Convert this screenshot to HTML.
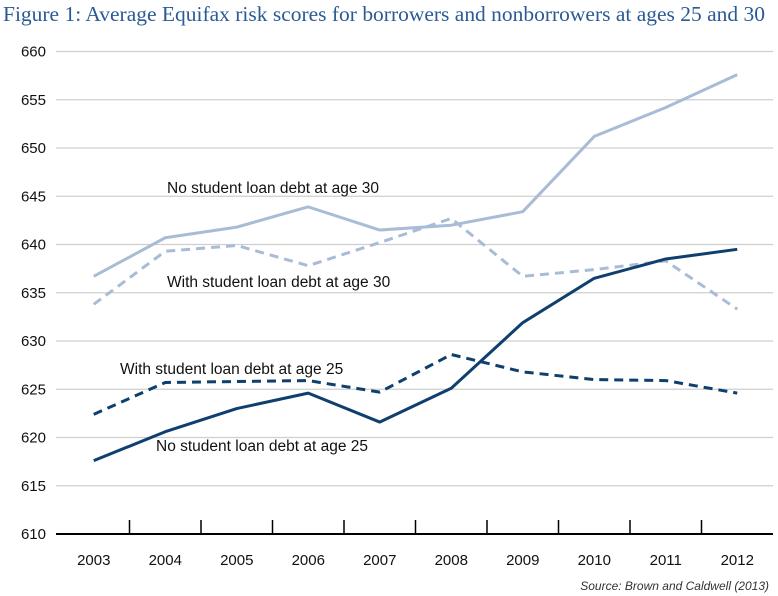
<!DOCTYPE html>
<html><head><meta charset="utf-8"><style>
body{margin:0;background:#fff;}
svg{display:block;font-family:"Liberation Sans",sans-serif;}
</style></head><body>
<svg id="chart" width="778" height="596" viewBox="0 0 778 596">
<text x="3" y="21" font-family="Liberation Serif, serif" font-size="21" fill="#2a5a96" textLength="762" lengthAdjust="spacingAndGlyphs">Figure 1: Average Equifax risk scores for borrowers and nonborrowers at ages 25 and 30</text>
<g id="grid"></g><g id="axis"></g><g id="lines"></g>
<text x="167" y="193" font-size="15.5" fill="#111">No student loan debt at age 30</text>
<text x="167" y="287" font-size="15.5" fill="#111">With student loan debt at age 30</text>
<text x="120" y="374" font-size="15.5" fill="#111">With student loan debt at age 25</text>
<text x="156" y="451" font-size="15.5" fill="#111">No student loan debt at age 25</text>
<text x="769" y="590" font-size="12" font-style="italic" fill="#333" text-anchor="end">Source: Brown and Caldwell (2013)</text>
</svg>
<script>
const years = ["2003","2004","2005","2006","2007","2008","2009","2010","2011","2012"];
const yTicks = [610,615,620,625,630,635,640,645,650,655,660];
const noDebt30 = [636.7,640.7,641.8,643.9,641.5,642.0,643.4,651.2,654.2,657.6];
const withDebt30 = [633.8,639.3,639.9,637.8,640.2,642.7,636.7,637.4,638.3,633.3];
const withDebt25 = [622.4,625.7,625.8,625.9,624.7,628.6,626.8,626.0,625.9,624.6];
const noDebt25 = [617.6,620.6,623.0,624.6,621.6,625.1,631.9,636.5,638.5,639.5];

const NS="http://www.w3.org/2000/svg";
const x0=58, x1=773, yMin=610, yMax=660, yTop=51.5, yBot=534;
const step=(x1-x0)/years.length;
const xs=i=>x0+step*(i+0.5);
const ys=v=>yBot-(v-yMin)/(yMax-yMin)*(yBot-yTop);
function mk(tag,attrs,parent){const e=document.createElementNS(NS,tag);for(const k in attrs)e.setAttribute(k,attrs[k]);parent.appendChild(e);return e;}
const grid=document.getElementById('grid'), axis=document.getElementById('axis'), lines=document.getElementById('lines');
yTicks.forEach(v=>{
  if(v>yMin){const l=mk('line',{x1:x0-2,x2:x1,y1:ys(v),y2:ys(v),stroke:'#cfcfcf','stroke-width':1.3},grid);
  
  }
  const t=mk('text',{x:46,y:ys(v)+5,'font-size':15,'text-anchor':'end',fill:'#111'},grid);
  t.textContent=v;
  
  
});
const ax=mk('line',{x1:x0-2,x2:x1,y1:yBot,y2:yBot,stroke:'#000','stroke-width':2},axis);


years.forEach((y,i)=>{
  if(i>0){const tk=mk('line',{x1:x0+step*i,x2:x0+step*i,y1:yBot-14,y2:yBot,stroke:'#000','stroke-width':1.5},axis);
  
  }
  const t=mk('text',{x:xs(i),y:565,'font-size':15,'text-anchor':'middle',fill:'#111'},axis);
  t.textContent=y;
  
  
});
function series(data,color,dash,name){
  const p=mk('polyline',{points:data.map((v,i)=>xs(i)+','+ys(v)).join(' '),fill:'none',stroke:color,'stroke-width':3,'stroke-dasharray':dash,'stroke-linejoin':'round'},lines);
  
  
}
series(noDebt30,'#a9bcd6','none','line-no-debt-30');
series(withDebt30,'#a9bcd6','9,6','line-with-debt-30');
series(withDebt25,'#0e3f6e','9,6','line-with-debt-25');
series(noDebt25,'#0e3f6e','none','line-no-debt-25');
</script>
</body></html>
